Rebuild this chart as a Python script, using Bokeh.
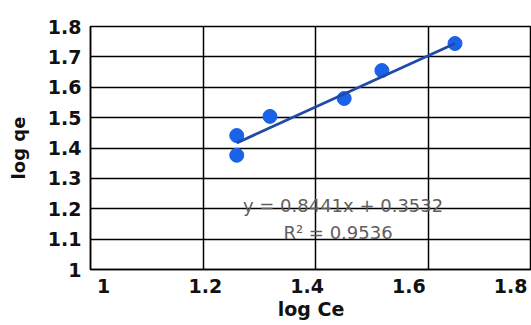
import numpy as np
from bokeh.plotting import figure
from bokeh.models import (LinearAxis, Range1d, FixedTicker, Grid,
                          CustomJSTickFormatter)
from bokeh.core.properties import value
from bokeh.embed import file_html
from bokeh.resources import INLINE

# data
log_ce = [1.260, 1.260, 1.319, 1.451, 1.518, 1.648]
log_qe = [1.441, 1.376, 1.504, 1.563, 1.655, 1.744]
slope = 0.8441
intercept = 0.3532
r2 = 0.9536
x_ticks = [1.0, 1.2, 1.4, 1.6, 1.8]
y_ticks = [1.0, 1.1, 1.2, 1.3, 1.4, 1.5, 1.6, 1.7, 1.8]
eq_text = ["y = 0.8441x + 0.3532", "R\u00b2 = 0.9536"]

p = figure(width=531, height=325, output_backend="svg", toolbar_location=None,
           x_range=Range1d(1.0, 1.784), y_range=Range1d(1.0, 1.8),
           x_axis_location=None, y_axis_location="left",
           min_border_left=90, min_border_top=26, min_border_right=0,
           min_border_bottom=56)
p.background_fill_color = "white"
p.border_fill_color = "white"
p.outline_line_color = "black"
p.outline_line_width = 1.5

fmt = CustomJSTickFormatter(code="return tick.toFixed(1).replace(/\\.0$/, '');")

# x labels axis (label positions as in the picture)
p.extra_x_ranges = {"lab": Range1d(0.9744, 1.8412)}
xax = LinearAxis(x_range_name="lab", ticker=FixedTicker(ticks=x_ticks),
                 formatter=fmt, axis_label="log Ce")
p.add_layout(xax, "below")

for ax in [xax] + list(p.yaxis):
    ax.axis_line_color = "black"
    ax.axis_line_width = 1.5
    ax.major_tick_out = 0
    ax.major_tick_in = 0
    ax.minor_tick_out = 0
    ax.minor_tick_in = 0
    ax.major_label_text_font = "DejaVu Sans"
    ax.major_label_text_font_style = "bold"
    ax.major_label_text_font_size = "19px"
    ax.major_label_text_color = "#111111"
    ax.axis_label_text_font = "DejaVu Sans"
    ax.axis_label_text_font_style = "bold"
    ax.axis_label_text_color = "#111111"

xax.major_label_standoff = 9
xax.axis_label_standoff = 2
xax.axis_label_text_font_size = "19px"

p.yaxis.ticker = FixedTicker(ticks=y_ticks)
p.yaxis.formatter = fmt
p.yaxis.axis_label = "log qe"
p.yaxis.major_label_standoff = 9
p.yaxis.axis_label_standoff = 16
p.yaxis.axis_label_text_font_size = "18px"

# grids
for g in p.grid:
    g.visible = False
p.add_layout(Grid(dimension=0, ticker=FixedTicker(ticks=[1.2, 1.4, 1.6]),
                  grid_line_color="black", grid_line_width=1.5))
p.add_layout(Grid(dimension=1, ticker=FixedTicker(ticks=y_ticks[1:-1]),
                  grid_line_color="black", grid_line_width=1.5))

# points
p.scatter(log_ce, log_qe, size=14, color="#1a62e8")

# trendline
xs = np.array([min(log_ce), max(log_ce)])
ys = slope * xs + intercept
p.line(xs, ys, line_color="#1f4aa8", line_width=2.8)

# equation text
p.text(x=[1.449, 1.440], y=[1.211, 1.122], text=eq_text,
       text_font=value("DejaVu Sans"), text_font_size="18px",
       text_color="#5e5e5e", text_align="center", text_baseline="middle")

open("out.html", "w").write(file_html(p, INLINE))
